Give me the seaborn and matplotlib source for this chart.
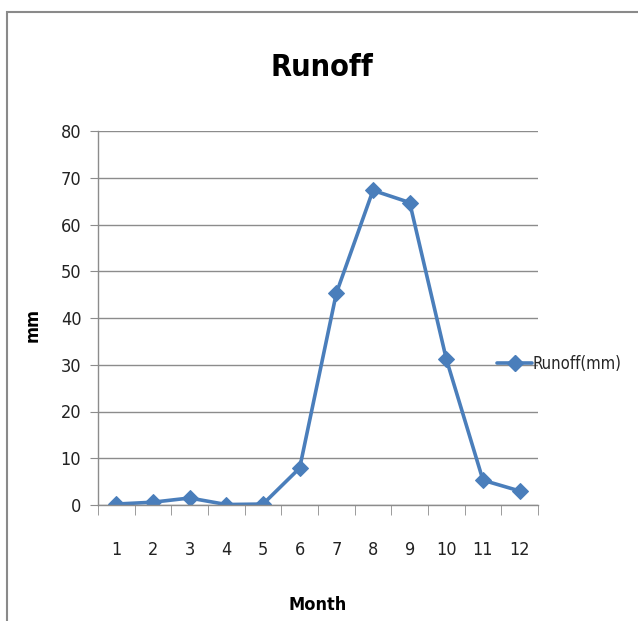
import matplotlib
matplotlib.use('Agg')
import matplotlib.pyplot as plt
import seaborn as sns
import pandas as pd
from matplotlib.patches import Rectangle
from matplotlib.lines import Line2D

# Data
months = [1, 2, 3, 4, 5, 6, 7, 8, 9, 10, 11, 12]
runoff = [0.2, 0.6, 1.5, 0.1, 0.2, 7.9, 45.3, 67.3, 64.7, 31.2, 5.3, 3.0]
y_ticks = [0, 10, 20, 30, 40, 50, 60, 70, 80]

sns.set_style('white')
plt.rcParams['font.family'] = ['DejaVu Sans']
plt.rcParams['font.stretch'] = 'condensed'

BLUE = '#4A7EBB'
GRID = '#8C8C8C'
TXT = '#222222'

df = pd.DataFrame({'Month': months, 'Runoff(mm)': runoff})

fig = plt.figure(figsize=(6.38, 6.21), dpi=100)
ax = fig.add_axes([98 / 638, 116 / 621, 440 / 638, 374 / 621])

sns.lineplot(data=df, x='Month', y='Runoff(mm)', ax=ax, color=BLUE,
             linewidth=2.6, marker='D', markersize=8, markeredgecolor=BLUE,
             legend=False)

ax.set_xlim(0.5, 12.5)
ax.set_ylim(0, 80)
ax.set_yticks(y_ticks)
ax.set_xticks(months)
ax.set_xticklabels([str(m) for m in months])
ax.set_xticks([m + 0.5 for m in range(0, 13)], minor=True)

ax.grid(axis='y', color=GRID, linewidth=1)
ax.set_axisbelow(True)
for s in ['top', 'right']:
    ax.spines[s].set_visible(False)
for s in ['left', 'bottom']:
    ax.spines[s].set_color(GRID)
    ax.spines[s].set_linewidth(1)

ax.tick_params(axis='y', which='major', length=6, color=GRID, labelsize=13,
               labelcolor=TXT, pad=6, left=True)
ax.tick_params(axis='x', which='major', length=0, labelsize=13,
               labelcolor=TXT, pad=26)
ax.tick_params(axis='x', which='minor', length=7, color=GRID, bottom=True)

ax.set_xlabel('Month', fontsize=13, fontweight='bold', color='black')
ax.set_ylabel('mm', fontsize=13, fontweight='bold', color='black')
ax.xaxis.set_label_coords(0.5, -0.243)
ax.yaxis.set_label_coords(-0.127, 0.48)
fig.text(322 / 638, 1 - 68 / 621, 'Runoff', ha='center', va='center',
         fontsize=22, fontweight='bold', color='black')

# legend to the right of the plot
handle = Line2D([0], [0], color=BLUE, linewidth=2.6, marker='D', markersize=8)
ax.legend([handle], ['Runoff(mm)'], loc='center left',
          bbox_to_anchor=(497 / 638, 1 - 364 / 621), bbox_transform=fig.transFigure,
          frameon=False, fontsize=12, handlelength=2.1, handletextpad=0.05,
          borderaxespad=0, borderpad=0)

# outer chart frame
fig.patches.append(Rectangle((7 / 638, -0.1), 1.2, 1 - 12 / 621 + 0.1,
                             transform=fig.transFigure, fill=False,
                             edgecolor='#8A8A8A', linewidth=1.5))

fig.savefig('out.png', dpi=100)
